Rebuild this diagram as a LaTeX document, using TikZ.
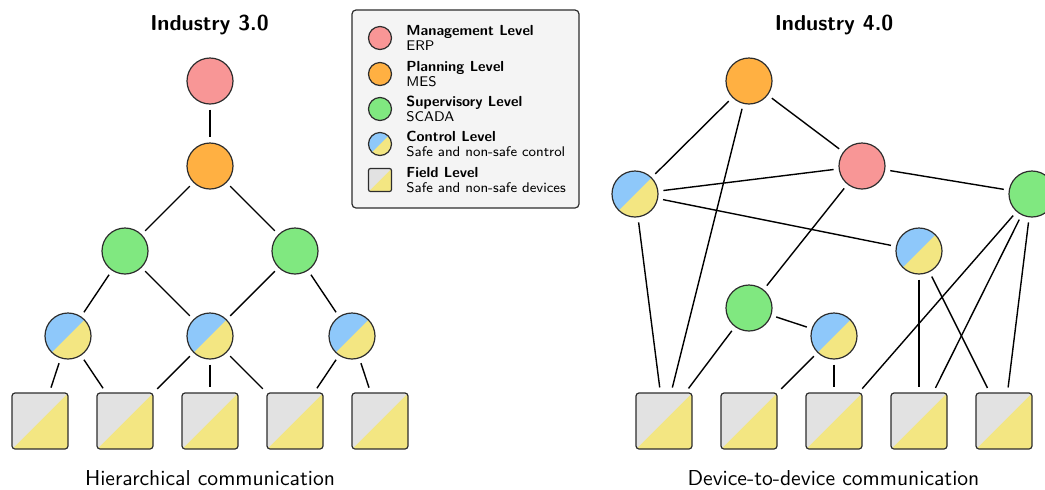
\documentclass[tikz,border=0pt]{standalone}
\usepackage{tikz}
\renewcommand{\familydefault}{\sfdefault}
\definecolor{mgmtred}{RGB}{248,150,150}
\definecolor{planorange}{RGB}{255,176,66}
\definecolor{supgreen}{RGB}{128,232,128}
\definecolor{ctrlblue}{RGB}{142,200,250}
\definecolor{safeyellow}{RGB}{243,230,130}
\definecolor{devgray}{RGB}{226,226,226}
\definecolor{edgegray}{RGB}{45,45,45}
\definecolor{legendfill}{RGB}{244,244,244}
\newcommand{\keyhead}[1]{{\fontsize{7.3}{7.75}\selectfont\bfseries #1}}

\begin{document}
\begin{tikzpicture}[x=0.5pt,y=-0.5pt,
    lvl/.style={circle,draw=edgegray,line width=0.6pt,minimum size=23pt,inner sep=0pt},
    mgmt/.style={lvl,fill=mgmtred},
    plan/.style={lvl,fill=planorange},
    superv/.style={lvl,fill=supgreen},
    ctrl/.style={lvl,fill=safeyellow,
      path picture={\fill[ctrlblue,sharp corners] (path picture bounding box.south west)
        -- (path picture bounding box.north west) -- (path picture bounding box.north east) -- cycle;}},
    dev/.style={rectangle,rounded corners=1.5pt,draw=edgegray,line width=0.6pt,
      minimum size=28pt,inner sep=0pt,fill=safeyellow,
      path picture={\fill[devgray,sharp corners] (path picture bounding box.south west)
        -- (path picture bounding box.north west) -- (path picture bounding box.north east) -- cycle;}},
    keyicon/.style={minimum size=11.5pt,rounded corners=1pt},
    keytext/.style={anchor=west,align=left,inner sep=0pt,font=\fontsize{7}{7.75}\selectfont},
    conn/.style={line width=0.7pt,shorten <=2.5pt,shorten >=2.5pt},
    heading/.style={anchor=base,inner sep=0pt,font=\fontsize{10.8}{13}\selectfont\bfseries},
    caption/.style={anchor=base,inner sep=0pt,font=\fontsize{10.8}{13}\selectfont}]
  \useasboundingbox (0,0) rectangle (1045,489);

  % Industry 3.0
  \node[heading] (title3) at (209.5,30) {Industry 3.0};
  \node[mgmt] (erp) at (210,81) {};
  \node[plan] (mes) at (210,166) {};
  \node[superv] (scadaA) at (125,251) {};
  \node[superv] (scadaB) at (295,251) {};
  \node[ctrl] (plcA) at (68,336) {};
  \node[ctrl] (plcB) at (210,336) {};
  \node[ctrl] (plcC) at (352,336) {};
  \node[dev] (devA) at (40,421) {};
  \node[dev] (devB) at (125,421) {};
  \node[dev] (devC) at (210,421) {};
  \node[dev] (devD) at (295,421) {};
  \node[dev] (devE) at (380,421) {};
  \node[caption] (cap3) at (210,485) {Hierarchical communication};

  \draw[conn] (erp) -- (mes);
  \draw[conn] (mes) -- (scadaA);
  \draw[conn] (mes) -- (scadaB);
  \draw[conn] (scadaA) -- (plcA);
  \draw[conn] (scadaA) -- (plcB);
  \draw[conn] (scadaB) -- (plcB);
  \draw[conn] (scadaB) -- (plcC);
  \draw[conn] (plcA) -- (devA);
  \draw[conn] (plcA) -- (devB);
  \draw[conn] (plcB) -- (devB);
  \draw[conn] (plcB) -- (devC);
  \draw[conn] (plcB) -- (devD);
  \draw[conn] (plcC) -- (devD);
  \draw[conn] (plcC) -- (devE);

  % legend
  \node[draw=edgegray,fill=legendfill,rounded corners=2pt,line width=0.6pt,
    minimum width=113.5pt,minimum height=99pt,inner sep=0pt] (legend) at (465.5,109) {};
  \node[mgmt,keyicon] (keymgmt) at (380,38) {};
  \node[keytext] (keymgmttxt) at (406,38) {\keyhead{Management Level}\\ERP};
  \node[plan,keyicon] (keyplan) at (380,74) {};
  \node[keytext] (keyplantxt) at (406,74) {\keyhead{Planning Level}\\MES};
  \node[superv,keyicon] (keysup) at (380,109) {};
  \node[keytext] (keysuptxt) at (406,109) {\keyhead{Supervisory Level}\\SCADA};
  \node[ctrl,keyicon] (keyctrl) at (380,144) {};
  \node[keytext] (keyctrltxt) at (406,144) {\keyhead{Control Level}\\Safe and non-safe control};
  \node[dev,keyicon] (keydev) at (380,180) {};
  \node[keytext] (keydevtxt) at (406,180) {\keyhead{Field Level}\\Safe and non-safe devices};

  % Industry 4.0
  \node[heading] (title4) at (834,30) {Industry 4.0};
  \node[plan] (mes4) at (749,81) {};
  \node[mgmt] (erp4) at (862,166) {};
  \node[ctrl] (plcA4) at (635,194) {};
  \node[superv] (scadaA4) at (1032,194) {};
  \node[ctrl] (plcB4) at (919,251) {};
  \node[superv] (scadaB4) at (749,308) {};
  \node[ctrl] (plcC4) at (834,336) {};
  \node[dev] (devA4) at (664,421) {};
  \node[dev] (devB4) at (749,421) {};
  \node[dev] (devC4) at (834,421) {};
  \node[dev] (devD4) at (919,421) {};
  \node[dev] (devE4) at (1004,421) {};
  \node[caption] (cap4) at (833.5,485) {Device-to-device communication};

  \draw[conn] (mes4) -- (plcA4);
  \draw[conn] (mes4) -- (devA4);
  \draw[conn] (mes4) -- (erp4);
  \draw[conn] (plcA4) -- (erp4);
  \draw[conn] (plcA4) -- (plcB4);
  \draw[conn] (plcA4) -- (devA4);
  \draw[conn] (erp4) -- (scadaA4);
  \draw[conn] (erp4) -- (scadaB4);
  \draw[conn] (scadaB4) -- (devA4);
  \draw[conn] (scadaB4) -- (plcC4);
  \draw[conn] (plcC4) -- (devB4);
  \draw[conn] (plcC4) -- (devC4);
  \draw[conn] (scadaA4) -- (devC4);
  \draw[conn] (scadaA4) -- (devD4);
  \draw[conn] (scadaA4) -- (devE4);
  \draw[conn] (plcB4) -- (devD4);
  \draw[conn] (plcB4) -- (devE4);
\end{tikzpicture}
\end{document}
